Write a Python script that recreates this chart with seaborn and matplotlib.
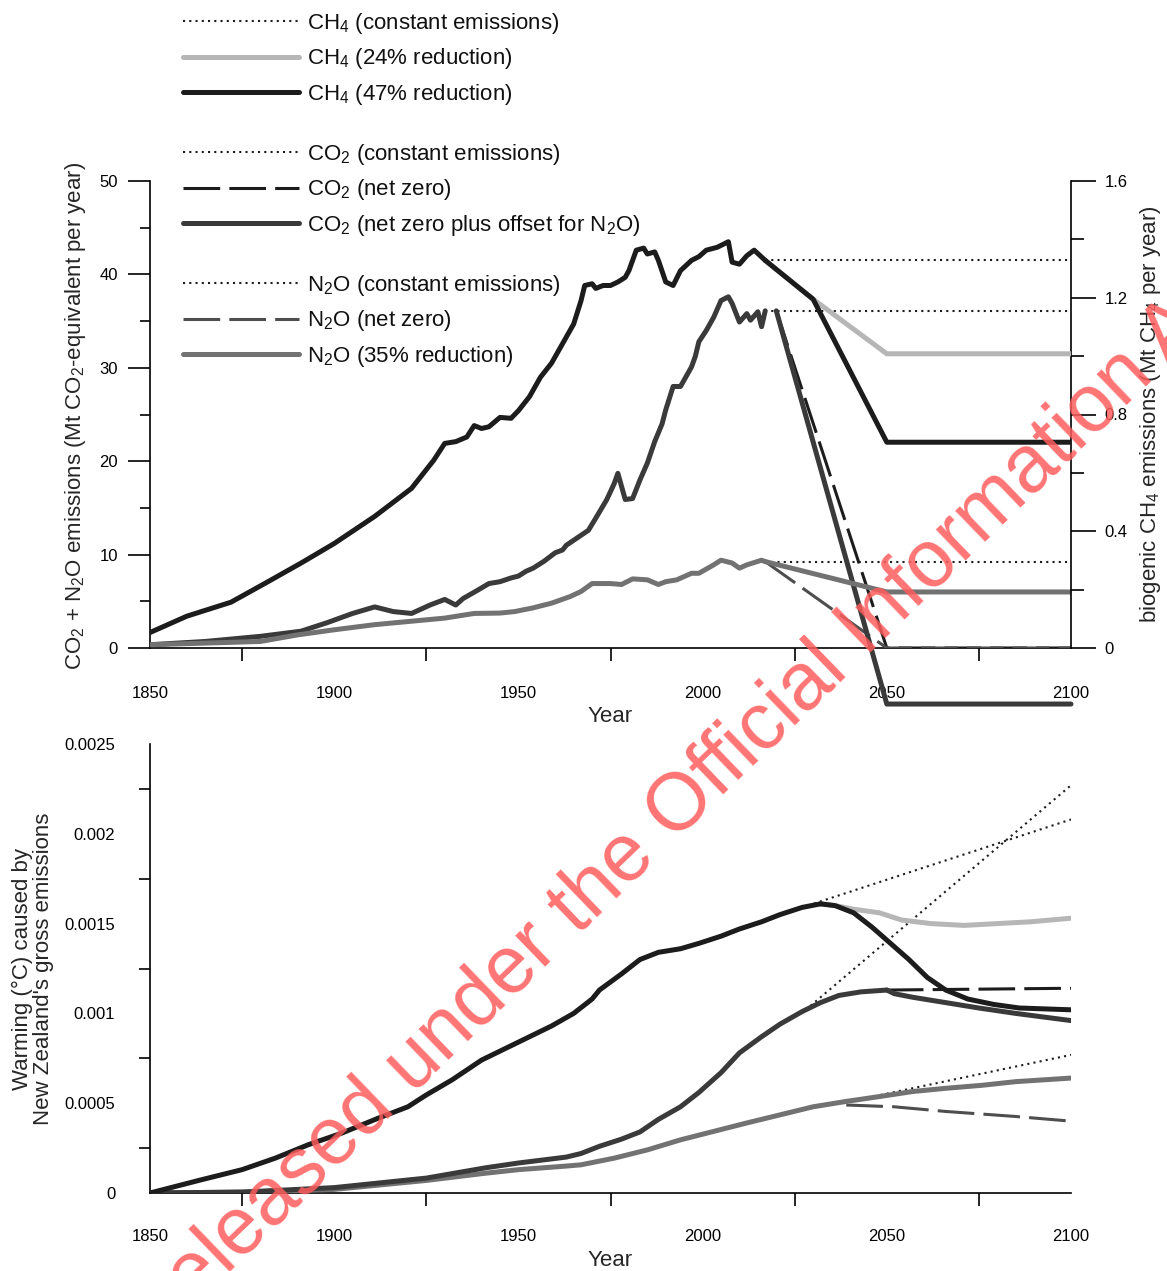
import matplotlib
matplotlib.use("Agg")
import matplotlib.pyplot as plt
from matplotlib.lines import Line2D
from matplotlib.ticker import MultipleLocator, FixedLocator, FixedFormatter
import seaborn as sns

# ---------------- DATA ----------------
# Top panel: emissions. CH4 in Mt CH4 / yr (right axis), CO2 & N2O in Mt CO2-e / yr (left axis)
ch4_years = [1850, 1860, 1872, 1882, 1891, 1900, 1911, 1921, 1927, 1930, 1933, 1936, 1938, 1940,
             1942, 1945, 1948, 1950, 1953, 1956, 1959, 1962, 1965, 1967, 1968, 1970, 1971, 1973,
             1975, 1977, 1979, 1980, 1982, 1984, 1985, 1987, 1988, 1990, 1992, 1994, 1997, 1999,
             2001, 2004, 2007, 2008, 2010, 2012, 2014, 2017]
ch4_hist = [0.053, 0.109, 0.157, 0.227, 0.291, 0.358, 0.451, 0.547, 0.643, 0.701, 0.707, 0.723, 0.762, 0.752,
            0.758, 0.790, 0.787, 0.813, 0.861, 0.928, 0.976, 1.043, 1.110, 1.190, 1.242, 1.248, 1.232, 1.242,
            1.242, 1.254, 1.270, 1.293, 1.363, 1.370, 1.350, 1.357, 1.328, 1.254, 1.242, 1.293, 1.328, 1.341,
            1.363, 1.373, 1.392, 1.322, 1.315, 1.344, 1.363, 1.328]
ch4_proj_years = [2017, 2030, 2050, 2100]
ch4_const = [1.328, 1.328, 1.328, 1.328]
ch4_24pct = [1.328, 1.195, 1.008, 1.008]
ch4_47pct = [1.328, 1.195, 0.705, 0.705]

co2_years = [1850, 1865, 1880, 1891, 1898, 1905, 1911, 1916, 1921, 1926, 1930, 1933, 1935, 1939,
             1942, 1945, 1948, 1950, 1952, 1954, 1957, 1960, 1962, 1963, 1966, 1969, 1971, 1974,
             1976, 1977, 1979, 1981, 1983, 1985, 1987, 1989, 1990, 1992, 1994, 1997, 1998, 1999,
             2001, 2003, 2005, 2007, 2008, 2010, 2012, 2013, 2015, 2016, 2017]
co2_hist = [0.35, 0.7, 1.25, 1.8, 2.7, 3.7, 4.4, 3.9, 3.7, 4.6, 5.2, 4.6, 5.3, 6.2,
            6.9, 7.1, 7.5, 7.7, 8.2, 8.55, 9.3, 10.2, 10.5, 11.0, 11.8, 12.6, 13.9, 15.9,
            17.6, 18.7, 15.9, 16.0, 18.0, 19.8, 22.1, 24.0, 25.5, 28.0, 28.0, 30.1, 31.2, 32.8,
            34.0, 35.4, 37.2, 37.6, 36.9, 34.9, 35.8, 35.1, 36.0, 34.4, 36.1]
co2_proj_years = [2017, 2020, 2050, 2100]
co2_const = [36.1, 36.1, 36.1, 36.1]
co2_netzero = [36.1, 36.1, 0.0, 0.0]
co2_offset = [36.1, 36.1, -6.0, -6.0]

n2o_years = [1850, 1880, 1890, 1900, 1911, 1930, 1938, 1945, 1949, 1954, 1959, 1964, 1967, 1970,
             1975, 1978, 1981, 1985, 1988, 1990, 1993, 1997, 1999, 2003, 2005, 2008, 2010, 2012,
             2016, 2017]
n2o_hist = [0.35, 0.7, 1.4, 1.95, 2.5, 3.2, 3.7, 3.74, 3.9, 4.3, 4.8, 5.5, 6.05, 6.9,
            6.9, 6.8, 7.4, 7.3, 6.8, 7.1, 7.3, 8.0, 8.0, 8.9, 9.4, 9.1, 8.55, 8.9,
            9.4, 9.25]
n2o_proj_years = [2017, 2050, 2100]
n2o_const = [9.25, 9.25, 9.25]
n2o_netzero = [9.25, 0.0, 0.0]
n2o_35pct = [9.25, 6.0, 6.0]

# Bottom panel: warming (deg C)
w_ch4_years = [1850, 1864, 1875, 1884, 1893, 1902, 1912, 1920, 1925, 1932, 1940, 1950, 1954, 1959,
               1965, 1970, 1972, 1978, 1983, 1988, 1994, 1999, 2005, 2010, 2016, 2021, 2027, 2032]
w_ch4 = [0, 0.000074, 0.00013, 0.000194, 0.000269, 0.000333, 0.000417, 0.00048, 0.000546, 0.00063,
         0.00074, 0.00084, 0.00088, 0.00093, 0.001, 0.00108, 0.00113, 0.00122, 0.0013, 0.00134,
         0.00136, 0.00139, 0.00143, 0.00147, 0.00151, 0.00155, 0.00159, 0.00161]
w_ch4_const_years = [2027, 2100]
w_ch4_const = [0.00159, 0.00208]
w_ch4_24_years = [2032, 2036, 2041, 2048, 2054, 2062, 2071, 2080, 2089, 2100]
w_ch4_24 = [0.00161, 0.0016, 0.00158, 0.00156, 0.00152, 0.0015, 0.00149, 0.0015, 0.00151, 0.00153]
w_ch4_47_years = [2032, 2036, 2041, 2046, 2051, 2056, 2061, 2066, 2072, 2079, 2086, 2100]
w_ch4_47 = [0.00161, 0.0016, 0.00156, 0.00148, 0.00139, 0.0013, 0.0012, 0.00113, 0.00108, 0.00105,
            0.00103, 0.00102]

w_co2_years = [1850, 1875, 1900, 1925, 1941, 1950, 1963, 1967, 1972, 1978, 1983, 1988, 1994, 1999,
               2005, 2010, 2016, 2021, 2027, 2032, 2037, 2043, 2050]
w_co2 = [0, 0.000005, 0.00003, 0.000083, 0.00014, 0.000167, 0.0002, 0.00022, 0.00026, 0.0003,
         0.00034, 0.00041, 0.00048, 0.00056, 0.00067, 0.00078, 0.00087, 0.00094, 0.00101, 0.00106,
         0.0011, 0.00112, 0.00113]
w_co2_const_years = [2028, 2100]
w_co2_const = [0.00102, 0.00227]
w_co2_nz_years = [2050, 2100]
w_co2_nz = [0.00113, 0.00114]
w_co2_off_years = [2050, 2052, 2057, 2066, 2075, 2085, 2100]
w_co2_off = [0.00113, 0.00111, 0.00109, 0.00106, 0.00103, 0.001, 0.00096]

w_n2o_years = [1850, 1875, 1900, 1925, 1941, 1950, 1963, 1967, 1976, 1985, 1994, 2003, 2012, 2021,
               2030, 2039]
w_n2o = [0, 0.000005, 0.00002, 0.00007, 0.00011, 0.00013, 0.00015, 0.000157, 0.000194, 0.00024,
         0.000296, 0.000343, 0.00039, 0.000435, 0.00048, 0.00051]
w_n2o_const_years = [2040, 2100]
w_n2o_const = [0.00051, 0.000769]
w_n2o_35_years = [2039, 2048, 2057, 2066, 2076, 2085, 2100]
w_n2o_35 = [0.00051, 0.000537, 0.000565, 0.000583, 0.0006, 0.00062, 0.00064]
w_n2o_nz_years = [2039, 2052, 2066, 2085, 2100]
w_n2o_nz = [0.00049, 0.00048, 0.000454, 0.000426, 0.0004]

legend_labels = [
    ["CH$_4$ (constant emissions)", "CH$_4$ (24% reduction)", "CH$_4$ (47% reduction)"],
    ["CO$_2$ (constant emissions)", "CO$_2$ (net zero)", "CO$_2$ (net zero plus offset for N$_2$O)"],
    ["N$_2$O (constant emissions)", "N$_2$O (net zero)", "N$_2$O (35% reduction)"],
]

# ---------------- STYLE ----------------
sns.set_style("white")
plt.rcParams['font.family'] = ['Liberation Sans', 'DejaVu Sans']
plt.rcParams['mathtext.fontset'] = 'custom'
plt.rcParams['mathtext.rm'] = 'Liberation Sans'
plt.rcParams['mathtext.it'] = 'Liberation Sans:italic'
plt.rcParams['mathtext.bf'] = 'Liberation Sans:bold'
plt.rcParams['axes.edgecolor'] = 'black'
plt.rcParams['axes.linewidth'] = 1.2
plt.rcParams['xtick.color'] = 'black'
plt.rcParams['ytick.color'] = 'black'
plt.rcParams['text.color'] = '#111111'

C_BLACK = '#1c1c1c'
C_CO2 = '#3a3a3a'
C_N2O = '#727272'
C_LIGHT = '#b6b6b6'
C_DASH_N2O = '#4e4e4e'
DOT = (0, (1, 2))
DASH = (0, (12, 3))
LW = 3.6
LW_DOT = 1.5
LW_DASH = 2.2

fig = plt.figure(figsize=(11.67, 12.71), dpi=100)
W, H = 1167, 1271
ax1 = fig.add_axes([150 / W, 1 - 648 / H, 921 / W, 467 / H])
ax2 = ax1.twinx()
ax3 = fig.add_axes([150 / W, 1 - 1193 / H, 921 / W, 449 / H])


def line(ax, x, y, color, lw, ls='-', z=2, clip=True):
    sns.lineplot(x=x, y=y, ax=ax, color=color, lw=lw, linestyle=ls, zorder=z,
                 clip_on=clip, legend=False, sort=False, estimator=None,
                 solid_joinstyle='round', solid_capstyle='round')


# ---- top panel ----
line(ax1, co2_proj_years[1:], co2_netzero[1:], C_BLACK, LW_DASH, DASH, z=3)
line(ax1, co2_proj_years, co2_const, C_BLACK, LW_DOT, DOT, z=2)
line(ax1, co2_proj_years[1:], co2_offset[1:], C_CO2, LW, z=4, clip=False)
line(ax1, co2_years, co2_hist, C_CO2, LW, z=4)
line(ax1, n2o_proj_years, n2o_const, C_BLACK, LW_DOT, DOT, z=2)
line(ax1, n2o_proj_years, n2o_netzero, C_DASH_N2O, LW_DASH, DASH, z=3)
line(ax1, n2o_proj_years, n2o_35pct, C_N2O, LW, z=4)
line(ax1, n2o_years, n2o_hist, C_N2O, LW, z=4)

line(ax2, ch4_proj_years, ch4_const, C_BLACK, LW_DOT, DOT, z=2)
line(ax2, ch4_proj_years, ch4_24pct, C_LIGHT, LW, z=3)
line(ax2, ch4_proj_years, ch4_47pct, C_BLACK, LW, z=4)
line(ax2, ch4_years, ch4_hist, C_BLACK, LW, z=4)

for a in (ax1, ax2):
    a.set_xlim(1850, 2100)
ax1.set_ylim(0, 50)
ax2.set_ylim(0, 1.6)

ax1.xaxis.set_major_locator(FixedLocator([1850, 1900, 1950, 2000, 2050, 2100]))
ax1.xaxis.set_minor_locator(FixedLocator([1875, 1925, 1975, 2025, 2075]))
ax1.yaxis.set_major_locator(MultipleLocator(10))
ax1.yaxis.set_minor_locator(MultipleLocator(5))
ax2.yaxis.set_major_locator(FixedLocator([0, 0.4, 0.8, 1.2, 1.6]))
ax2.yaxis.set_major_formatter(FixedFormatter(['0', '0.4', '0.8', '1.2', '1.6']))
ax2.yaxis.set_minor_locator(FixedLocator([0.2, 0.6, 1.0, 1.4]))

ax1.spines['top'].set_visible(False)
ax1.spines['right'].set_visible(False)
for s in ('top', 'left', 'bottom'):
    ax2.spines[s].set_visible(False)
ax2.spines['right'].set_visible(True)

ax1.tick_params(axis='y', which='major', direction='out', length=16, width=1.2, pad=7, labelsize=12)
ax1.tick_params(axis='y', which='minor', direction='out', length=7, width=1.2, left=True)
ax1.tick_params(axis='x', which='major', direction='out', length=15, width=1.2, pad=12, labelsize=12)
ax1.tick_params(axis='x', which='minor', direction='out', length=9, width=1.2, bottom=True)
ax2.tick_params(axis='y', which='major', direction='out', length=18, width=1.2, pad=6, labelsize=12)
ax2.tick_params(axis='y', which='minor', direction='out', length=9, width=1.2, right=True)

ax1.set_xlabel("Year", fontsize=16, labelpad=4)
ax1.set_ylabel("CO$_2$ + N$_2$O emissions (Mt CO$_2$-equivalent per year)", fontsize=16)
ax1.yaxis.set_label_coords(-0.081, 0.497)
ax1.yaxis.label.set_verticalalignment('center')
ax2.set_ylabel("biogenic CH$_4$ emissions (Mt CH$_4$ per year)", fontsize=16, rotation=90)
ax2.yaxis.set_label_coords(1.086, 0.5)
ax2.yaxis.label.set_verticalalignment('center')

# ---- bottom panel ----
line(ax3, w_co2_const_years, w_co2_const, C_BLACK, LW_DOT, DOT, z=2)
line(ax3, w_ch4_const_years, w_ch4_const, C_BLACK, LW_DOT, DOT, z=2)
line(ax3, w_n2o_const_years, w_n2o_const, C_BLACK, LW_DOT, DOT, z=2)
line(ax3, w_co2_nz_years, w_co2_nz, C_BLACK, LW_DASH, DASH, z=3)
line(ax3, w_n2o_nz_years, w_n2o_nz, C_DASH_N2O, LW_DASH, DASH, z=3)
line(ax3, w_ch4_24_years, w_ch4_24, C_LIGHT, LW, z=3)
line(ax3, w_n2o_35_years, w_n2o_35, C_N2O, LW, z=4)
line(ax3, w_n2o_years, w_n2o, C_N2O, LW, z=4)
line(ax3, w_co2_off_years, w_co2_off, C_CO2, LW, z=4)
line(ax3, w_co2_years, w_co2, C_CO2, LW, z=4)
line(ax3, w_ch4_47_years, w_ch4_47, C_BLACK, LW, z=5)
line(ax3, w_ch4_years, w_ch4, C_BLACK, LW, z=5)

ax3.set_xlim(1850, 2100)
ax3.set_ylim(0, 0.0025)
ax3.xaxis.set_major_locator(FixedLocator([1850, 1900, 1950, 2000, 2050, 2100]))
ax3.xaxis.set_minor_locator(FixedLocator([1875, 1925, 1975, 2025, 2075]))
ax3.yaxis.set_major_locator(FixedLocator([0, 0.0005, 0.001, 0.0015, 0.002, 0.0025]))
ax3.yaxis.set_major_formatter(FixedFormatter(['0', '0.0005', '0.001', '0.0015', '0.002', '0.0025']))
ax3.yaxis.set_minor_locator(FixedLocator([0.00025, 0.00075, 0.00125, 0.00175, 0.00225]))
ax3.spines['top'].set_visible(False)
ax3.spines['right'].set_visible(False)
ax3.tick_params(axis='y', which='major', direction='out', length=16, width=1.2, pad=9, labelsize=12)
ax3.tick_params(axis='y', which='minor', direction='out', length=8, width=1.2, left=True)
ax3.tick_params(axis='x', which='major', direction='out', length=17, width=1.2, pad=9, labelsize=12)
ax3.tick_params(axis='x', which='minor', direction='out', length=9, width=1.2, bottom=True)
ax3.set_xlabel("Year", fontsize=16, labelpad=4)
ax3.set_ylabel("Warming (°C) caused by\nNew Zealand's gross emissions", fontsize=16, linespacing=1.0)
ax3.yaxis.set_label_coords(-0.127, 0.5)
ax3.yaxis.label.set_verticalalignment('center')

# ---- legend (three groups) ----
styles = [
    [dict(color=C_BLACK, lw=LW_DOT, ls=DOT), dict(color=C_LIGHT, lw=LW), dict(color=C_BLACK, lw=LW)],
    [dict(color=C_BLACK, lw=LW_DOT, ls=DOT), dict(color=C_BLACK, lw=LW_DASH, ls=DASH), dict(color=C_CO2, lw=LW)],
    [dict(color=C_BLACK, lw=LW_DOT, ls=DOT), dict(color=C_DASH_N2O, lw=LW_DASH, ls=DASH), dict(color=C_N2O, lw=LW)],
]
tops = [11, 142, 273]
for grp, (labs, sty) in enumerate(zip(legend_labels, styles)):
    handles = [Line2D([], [], **s) for s in sty]
    fig.legend(handles, labs, loc='upper left', bbox_to_anchor=(183 / W, 1 - tops[grp] / H),
               bbox_transform=fig.transFigure, frameon=False, fontsize=16,
               handlelength=5.2, handletextpad=0.4, labelspacing=0.47,
               borderpad=0, borderaxespad=0)

# ---- watermark ----
fig.text(688 / W, 1 - 800 / H, "Released under the Official Information Act", rotation=44,
         rotation_mode='anchor', ha='center', va='center', fontsize=58,
         color='#ff5c5c', alpha=0.85, zorder=20)

fig.savefig("out.png", dpi=100)
